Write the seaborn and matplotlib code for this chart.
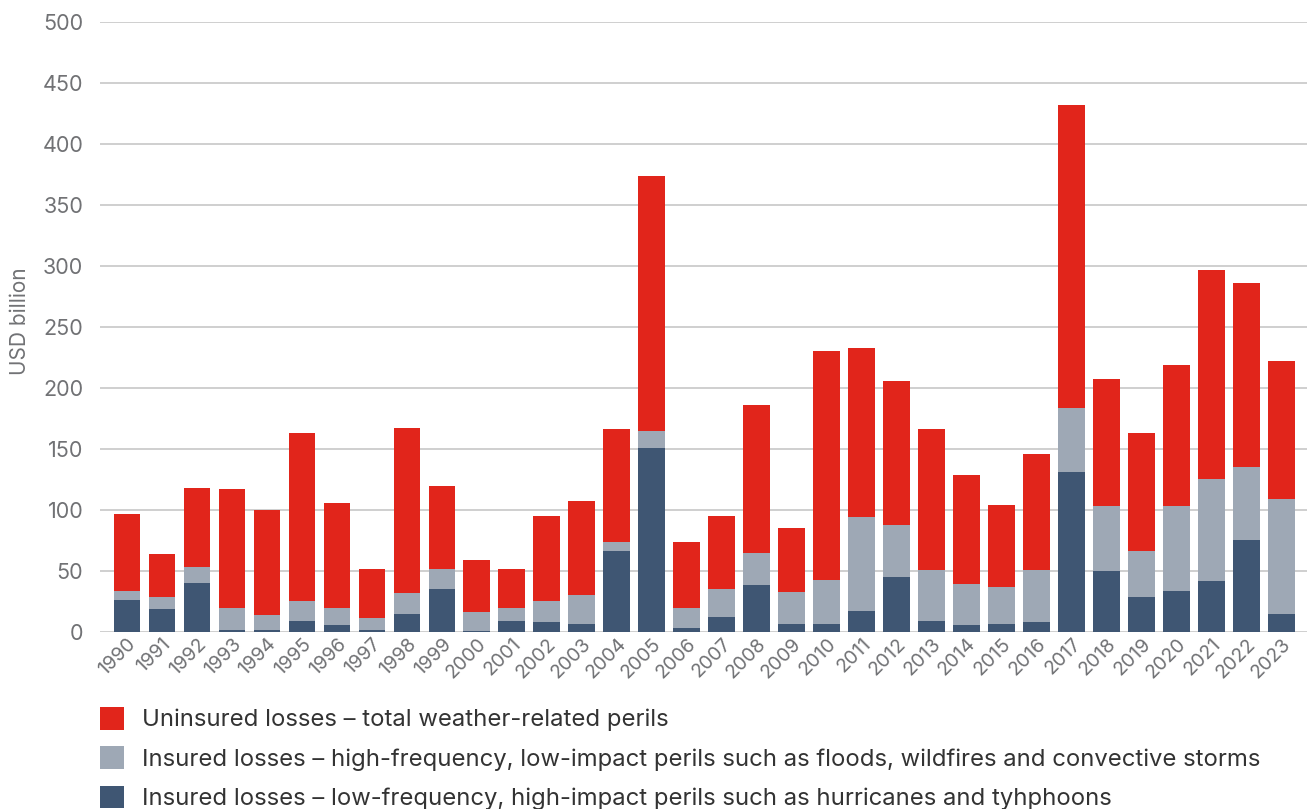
import pandas as pd
import matplotlib.pyplot as plt
import seaborn as sns
from matplotlib.patches import Patch

# 数据（USD billion）
years = [str(y) for y in range(1990, 2024)]

insured_low_freq = [26, 19, 40, 2, 1.5, 9, 5.5, 1.5, 15, 35,
                    1, 9, 8, 6.5, 66, 151, 3, 12, 38.5, 6.5,
                    6.5, 17, 45, 9, 5.5, 6.5, 8, 131, 50, 29,
                    34, 42, 75, 15]
insured_high_freq = [8, 10, 13, 18, 12.5, 16, 14.5, 10, 17, 17,
                     15, 11, 17, 23.5, 8, 14, 17, 23, 26.5, 26.5,
                     36.5, 77, 43, 42, 33.5, 30.5, 43, 53, 53, 37,
                     69, 83, 60, 94]
uninsured = [63, 35, 65, 97, 86, 138, 86, 40.5, 135, 68,
             43, 32, 70, 77, 92, 209, 54, 60, 121, 52,
             187, 139, 118, 115, 90, 67, 95, 248, 104, 97,
             116, 172, 151, 113]

labels = [
    "Uninsured losses \u2013 total weather-related perils",
    "Insured losses \u2013 high-frequency, low-impact perils such as floods, wildfires and convective storms",
    "Insured losses \u2013 low-frequency, high-impact perils such as hurricanes and tyhphoons",
]
colors = ["#E1251B", "#9EA8B5", "#3F5673"]

df = pd.DataFrame({
    "year": years,
    "low": insured_low_freq,
    "high": insured_high_freq,
    "unins": uninsured,
})
# 堆叠：累计高度
df["top_low"] = df["low"]
df["top_high"] = df["low"] + df["high"]
df["top_all"] = df["top_high"] + df["unins"]

sns.set_theme(style="white")
plt.rcParams['font.family'] = ['Inter', 'DejaVu Sans']

fig = plt.figure(figsize=(13.07, 8.09), dpi=100)
ax = fig.add_axes([0.0765, 0.2188, 0.9235, 0.754])

# 从上往下画，后画的覆盖前面的
for col, c in zip(["top_all", "top_high", "top_low"], colors):
    sns.barplot(data=df, x="year", y=col, color=c, saturation=1,
                width=0.76, linewidth=0, ax=ax, zorder=3)

ax.set_ylim(0, 500)
ax.set_xlim(-0.77, 33.73)
ax.set_yticks(range(0, 501, 50))
ax.yaxis.grid(True, color="#cccccc", linewidth=1.3, zorder=0)
ax.set_axisbelow(True)
for s in ax.spines.values():
    s.set_visible(False)

ax.tick_params(axis="y", length=0, pad=12, labelsize=15.5, labelcolor="#717275")
ax.tick_params(axis="x", length=0, pad=2, labelsize=14, labelcolor="#717275")
plt.setp(ax.get_xticklabels(), rotation=45, ha="right", rotation_mode="anchor")

ax.set_xlabel("")
ax.set_ylabel("USD billion", fontsize=15, color="#717275")
ax.yaxis.set_label_coords(-0.058, 0.51)

handles = [Patch(facecolor=c, edgecolor="none") for c in colors]
fig.legend(handles, labels, loc="upper left", bbox_to_anchor=(0.069, 0.138),
           frameon=False, fontsize=17.2, handlelength=1.0, handleheight=1.09,
           handletextpad=0.75, labelspacing=0.62, borderaxespad=0,
           labelcolor="#333333")

fig.savefig("out.png", dpi=100)
plt.close()
